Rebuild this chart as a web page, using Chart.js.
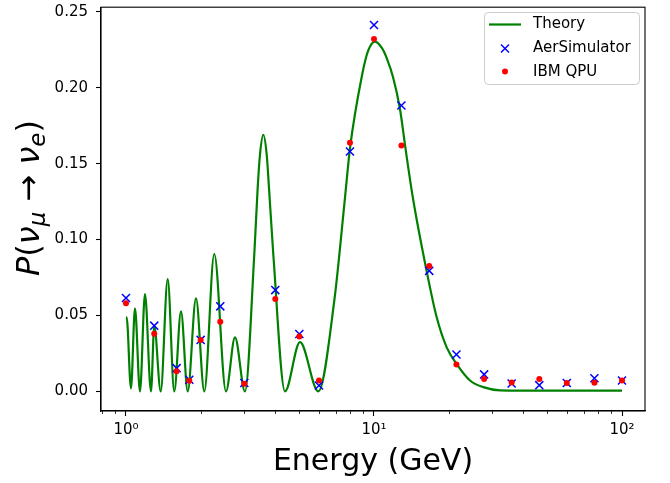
<!DOCTYPE html>
<html>
<head>
<meta charset="utf-8">
<script src="https://cdn.jsdelivr.net/npm/chart.js@4"></script>
<style>
  body { margin: 0; background: #fff; }
</style>
</head>
<body>
<canvas id="chart" width="670" height="483"></canvas>
<script>
// energies (GeV) where the simulator / QPU runs were done
const markerE = [1.0, 1.3, 1.6, 1.8, 2.0, 2.4, 3.0, 4.0, 5.0, 6.0, 8.0, 10.0, 12.9, 16.7, 21.5, 27.8, 35.9, 46.4, 59.9, 77.4, 100];
const aerP = [0.0615, 0.0433, 0.0153, 0.0077, 0.0339, 0.0560, 0.0055, 0.0667, 0.0378, 0.0039, 0.1580, 0.2413, 0.1883, 0.0794, 0.0243, 0.0112, 0.0052, 0.0041, 0.0055, 0.0087, 0.0072];
const qpuP = [0.0580, 0.0379, 0.0133, 0.0070, 0.0339, 0.0459, 0.0050, 0.0608, 0.0361, 0.0072, 0.1638, 0.2320, 0.1620, 0.0825, 0.0177, 0.0081, 0.0058, 0.0081, 0.0055, 0.0057, 0.0072];

// theory curve (peaks / troughs / shoulders)
const theoryE = [1.000, 1.006, 1.0475, 1.0872, 1.1387, 1.1929, 1.2614, 1.3005, 1.3803, 1.4729,
  1.5656, 1.6667, 1.7735, 1.9154, 2.0693, 2.2699, 2.5307, 2.7512, 3.0186, 3.2915,
  3.3963, 3.4701, 3.5779, 3.6927, 3.7727, 3.9264, 4.3766, 5.0303, 5.9624, 6.9167,
  7.6384, 8.0010, 8.9448, 9.4580, 10.093, 10.771, 11.283, 11.930, 12.728, 13.397,
  14.365, 16.316, 17.898, 19.640, 21.554, 24.385, 27.590, 32.227, 50.0, 100.0];
const theoryP = [0.0488, 0.0488, 0.002, 0.0547, 0.000, 0.0641, 0.000, 0.043, 0.000, 0.074,
  0.000, 0.0527, 0.000, 0.0612, 0.000, 0.0905, 0.000, 0.0356, 0.000, 0.0903,
  0.134, 0.156, 0.169, 0.156, 0.134, 0.0903, 0.000, 0.0324, 0.000, 0.0597,
  0.1275, 0.160, 0.208, 0.224, 0.2303, 0.226, 0.219, 0.207, 0.186, 0.160,
  0.127, 0.079, 0.0488, 0.029, 0.018, 0.0072, 0.0028, 0.0007, 0.0005, 0.0005];

const xMajor = [1, 10, 100];
const xLabels = ['10⁰', '10¹', '10²'];
const xMinor = [0.8, 0.9, 2, 3, 4, 5, 6, 7, 8, 9, 20, 30, 40, 50, 60, 70, 80, 90];
const yTicks = [0, 0.05, 0.10, 0.15, 0.20, 0.25];

const FONT = '"DejaVu Sans"';
Chart.defaults.font.family = FONT;
Chart.defaults.color = '#000';

const toPoints = (xs, ys) => xs.map((x, i) => ({ x, y: ys[i] }));

// top/right spines
const framePlugin = {
    id: 'frame',
    afterDraw(chart) {
        const { ctx, chartArea: a } = chart;
        ctx.save();
        ctx.strokeStyle = '#000';
        ctx.lineWidth = 1.1;
        ctx.strokeRect(a.left, a.top, a.right - a.left, a.bottom - a.top);
        ctx.restore();
    }
};

const minorTickPlugin = {
    id: 'minorTicks',
    afterDraw(chart) {
        const { ctx, scales: { x } } = chart;
        ctx.save();
        ctx.strokeStyle = '#000';
        ctx.lineWidth = 0.8;
        xMinor.forEach(v => {
            const px = Math.round(x.getPixelForValue(v)) + 0.5;
            ctx.beginPath();
            ctx.moveTo(px, x.top);
            ctx.lineTo(px, x.top + 3);
            ctx.stroke();
        });
        ctx.restore();
    }
};

const legendPlugin = {
    id: 'boxLegend',
    afterDraw(chart) {
        const ctx = chart.ctx;
        ctx.save();
        ctx.fillStyle = 'rgba(255,255,255,0.8)';
        ctx.strokeStyle = '#cccccc';
        ctx.lineWidth = 1;
        ctx.beginPath();
        ctx.roundRect(484.5, 12.5, 155, 72, 4);
        ctx.fill();
        ctx.stroke();

        // Theory
        ctx.strokeStyle = '#008000';
        ctx.lineWidth = 2.2;
        ctx.beginPath();
        ctx.moveTo(489, 24.5);
        ctx.lineTo(521, 24.5);
        ctx.stroke();
        // AerSimulator
        ctx.strokeStyle = '#0000ff';
        ctx.lineWidth = 1.5;
        ctx.beginPath();
        ctx.moveTo(501, 44.5); ctx.lineTo(509, 52.5);
        ctx.moveTo(509, 44.5); ctx.lineTo(501, 52.5);
        ctx.stroke();
        // IBM QPU
        ctx.fillStyle = '#ff0000';
        ctx.beginPath();
        ctx.arc(505, 71.5, 3, 0, Math.PI * 2);
        ctx.fill();

        ctx.fillStyle = '#000';
        ctx.font = `15px ${FONT}`;
        ctx.textBaseline = 'middle';
        ctx.fillText('Theory', 533, 24.5);
        ctx.fillText('AerSimulator', 533, 48.5);
        ctx.fillText('IBM QPU', 533, 72);
        ctx.restore();
    }
};

// y label with sub-scripts, like matplotlib mathtext
const yLabelPlugin = {
    id: 'yLabel',
    afterDraw(chart) {
        const ctx = chart.ctx;
        const big = 32, small = 23;
        const parts = [
            { t: 'P', font: `italic ${big}px ${FONT}`, dy: 0 },
            { t: '(', font: `${big}px ${FONT}`, dy: 0 },
            { t: 'ν', font: `italic ${big}px ${FONT}`, dy: 0 },
            { t: 'μ', font: `italic ${small}px ${FONT}`, dy: 6 },
            { t: ' → ', font: `${big}px ${FONT}`, dy: 0 },
            { t: 'ν', font: `italic ${big}px ${FONT}`, dy: 0 },
            { t: 'e', font: `italic ${small}px ${FONT}`, dy: 6 },
            { t: ')', font: `${big}px ${FONT}`, dy: 0 }
        ];
        ctx.save();
        let total = 0;
        parts.forEach(p => { ctx.font = p.font; p.w = ctx.measureText(p.t).width; total += p.w; });
        ctx.translate(39, 198);
        ctx.rotate(-Math.PI / 2);
        ctx.fillStyle = '#000';
        ctx.textBaseline = 'alphabetic';
        let x = -total / 2;
        parts.forEach(p => {
            ctx.font = p.font;
            ctx.fillText(p.t, x, p.dy);
            x += p.w;
        });
        ctx.restore();
    }
};

new Chart(document.getElementById('chart'), {
    type: 'scatter',
    data: {
        datasets: [
            {
                label: 'IBM QPU',
                data: toPoints(markerE, qpuP),
                pointStyle: 'circle',
                pointRadius: 3,
                backgroundColor: '#ff0000',
                borderWidth: 0,
                order: 0
            },
            {
                label: 'AerSimulator',
                data: toPoints(markerE, aerP),
                pointStyle: 'crossRot',
                pointRadius: 5.7,
                borderColor: '#0000ff',
                borderWidth: 1.5,
                order: 1
            },
            {
                label: 'Theory',
                data: toPoints(theoryE, theoryP),
                showLine: true,
                borderColor: '#008000',
                borderWidth: 2.2,
                pointRadius: 0,
                cubicInterpolationMode: 'monotone',
                order: 2
            }
        ]
    },
    options: {
        responsive: false,
        animation: false,
        layout: { padding: { top: 5, right: 25, left: 0, bottom: 0 } },
        plugins: { legend: { display: false }, tooltip: { enabled: false } },
        scales: {
            x: {
                type: 'logarithmic',
                min: 0.793,
                max: 123.8,
                afterBuildTicks: s => { s.ticks = xMajor.map(v => ({ value: v })); },
                afterFit: s => {
                    s.height = 72;
                    s.paddingLeft = 0;
                    s.paddingRight = 0;
                },
                ticks: {
                    callback: v => xLabels[xMajor.indexOf(v)] ?? '',
                    font: { size: 15 },
                    color: '#000',
                    padding: 5,
                    maxRotation: 0,
                    autoSkip: false
                },
                grid: { drawOnChartArea: false, tickLength: 5, tickColor: '#000', tickWidth: 1.1 },
                border: { color: '#000', width: 1.1 },
                title: { display: true, text: 'Energy (GeV)', font: { size: 30 }, color: '#000', padding: { top: 0, bottom: 3 } }
            },
            y: {
                min: -0.0129,
                max: 0.253,
                afterBuildTicks: s => { s.ticks = yTicks.map(v => ({ value: v })); },
                afterFit: s => {
                    s.width = 101;
                    s.paddingTop = 0;
                    s.paddingBottom = 0;
                },
                ticks: {
                    callback: v => v.toFixed(2),
                    font: { size: 15 },
                    color: '#000',
                    padding: 8
                },
                grid: { drawOnChartArea: false, tickLength: 5, tickColor: '#000', tickWidth: 1.1 },
                border: { color: '#000', width: 1.1 }
            }
        }
    },
    plugins: [framePlugin, minorTickPlugin, legendPlugin, yLabelPlugin]
});
</script>
</body>
</html>
